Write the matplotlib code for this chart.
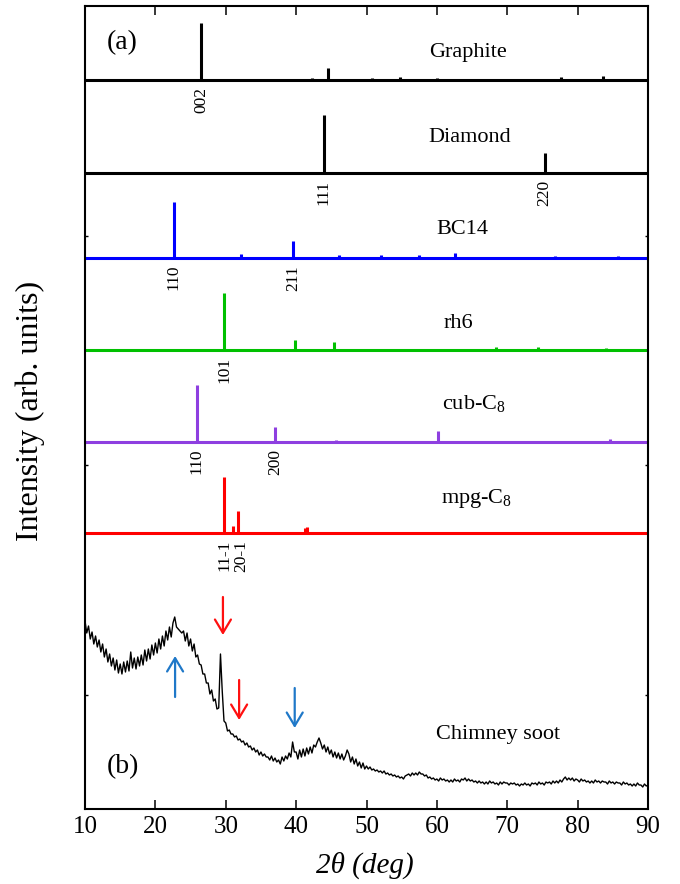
import numpy as np
import matplotlib
matplotlib.use("Agg")
import matplotlib.pyplot as plt

plt.rcParams['font.family'] = ['Liberation Serif', 'DejaVu Serif']
plt.rcParams['mathtext.fontset'] = 'custom'
plt.rcParams['mathtext.rm'] = 'Liberation Serif'
plt.rcParams['mathtext.it'] = 'Liberation Serif:italic'

# simulated patterns: peak positions (2theta, deg) and heights (arb. units)
graphite_pos = [26.5, 42.3, 44.6, 50.8, 54.7, 60.0, 77.6, 83.6, 87.4]
graphite_int = [57, 2, 12, 2, 3, 2, 3, 4, 1]
diamond_pos = [43.9, 75.3]
diamond_int = [58, 20]
bc14_pos = [22.6, 32.2, 39.6, 46.1, 52.1, 57.5, 62.6, 67.6, 72.3, 76.8, 81.4, 85.7]
bc14_int = [56, 4, 17, 3, 3, 3, 5, 1, 1.5, 2, 1.5, 2]
rh6_pos = [25.6, 29.8, 39.8, 45.4, 48.1, 62.1, 68.4, 74.4, 84.0]
rh6_int = [1, 57, 10, 8, 1, 0.5, 3, 3, 2]
cub_pos = [25.9, 37.0, 45.7, 53.3, 60.2, 73.0, 78.9, 84.6]
cub_int = [57, 15, 2, 1, 11, 1, 1, 3]
mpg_pos = [20.3, 25.1, 29.8, 31.1, 31.8, 41.2, 41.6, 44.1, 47.4, 50.9,
           56.4, 58.0, 60.1, 61.8, 63.9, 68.5, 74.7, 79.9, 86.0]
mpg_int = [1, 1, 56, 7, 22, 5, 6, 1, 1, 1, 1, 1.5, 1.5, 1, 1.5, 0.5, 0.5, 0.5, 0.5]

names = ['Graphite', 'Diamond', 'BC14', 'rh6', 'cub-C$_8$', 'mpg-C$_8$']
hkl_pos = [[26.5], [43.9, 75.3], [22.6, 39.6], [29.8], [25.9, 37.0], [29.8, 32.2]]
hkl_txt = [['002'], ['111', '220'], ['110', '211'], ['101'], ['110', '200'], ['11-1', '20-1']]

# measured chimney soot, step 0.25 deg from 10 to 90
soot_start, soot_step = 10.0, 0.25
soot_int = [
    188, 176, 183, 170, 177, 165, 173, 162, 169, 157, 165, 152, 160, 147, 155, 143,
    151, 139, 149, 136, 145, 135, 147, 137, 148, 138, 157, 141, 151, 140, 152, 143,
    154, 144, 159, 148, 160, 150, 164, 154, 166, 156, 170, 160, 173, 163, 178, 169,
    182, 172, 186, 192, 182, 180, 178, 176, 178, 168, 176, 163, 170, 158, 165, 152,
    154, 145, 144, 135, 135, 126, 126, 115, 119, 108, 110, 100, 101, 155, 118, 88,
    86, 78, 79, 75, 75, 72, 73, 69, 70, 67, 68, 64, 66, 62, 63, 59,
    61, 57, 59, 54, 57, 53, 55, 52, 52, 49, 53, 48, 51, 47, 49, 45,
    52, 48, 53, 50, 56, 52, 67, 57, 57, 50, 59, 52, 60, 53, 61, 55,
    62, 56, 64, 62, 67, 71, 66, 60, 64, 57, 62, 55, 59, 52, 57, 51,
    56, 50, 55, 49, 53, 59, 55, 47, 52, 45, 50, 43, 47, 41, 46, 40,
    43, 40, 42, 39, 40, 38, 39, 37, 38, 36, 38, 35, 36, 34, 35, 33,
    34, 32, 33, 31, 32, 30, 33, 34, 35, 33, 36, 34, 36, 34, 37, 35,
    35, 33, 34, 31, 32, 30, 31, 29, 30, 28, 31, 29, 30, 28, 29, 27,
    29, 27, 30, 28, 29, 27, 30, 29, 31, 28, 30, 28, 29, 27, 28, 26,
    28, 26, 27, 25, 27, 25, 28, 26, 27, 25, 26, 24, 27, 25, 27, 26,
    26, 24, 26, 25, 26, 24, 25, 23, 25, 24, 26, 24, 25, 23, 26, 25,
    26, 24, 27, 25, 26, 24, 27, 26, 27, 25, 28, 26, 28, 26, 29, 27,
    30, 32, 29, 31, 29, 31, 28, 30, 29, 27, 30, 28, 29, 27, 28, 26,
    28, 26, 29, 27, 28, 26, 28, 27, 27, 25, 28, 26, 27, 25, 27, 26,
    26, 24, 27, 25, 26, 24, 25, 23, 25, 23, 26, 24, 24, 22, 25, 23,
    24,
]

patterns = [(graphite_pos, graphite_int), (diamond_pos, diamond_int), (bc14_pos, bc14_int),
            (rh6_pos, rh6_int), (cub_pos, cub_int), (mpg_pos, mpg_int)]
colors = ['black', 'black', '#0000ff', '#00c000', '#8e3fe0', '#ff0000']
offsets = [729, 636, 551, 459, 367, 276]
name_xy = [(64.4, 756), (64.7, 671), (63.6, 579), (63.0, 485), (65.2, 405), (65.7, 310)]

fig = plt.figure(figsize=(6.8, 8.84), dpi=100)
ax = fig.add_axes([85 / 680, 1 - 809 / 884, 563 / 680, 803 / 884])

for (pos, inten), c, off, name, nxy, hp, ht in zip(patterns, colors, offsets, names,
                                                   name_xy, hkl_pos, hkl_txt):
    ax.hlines(off, 10, 90, color=c, lw=2.2)
    ax.vlines(pos, off, off + np.array(inten), color=c, lw=2.2)
    ax.text(nxy[0], nxy[1], name, fontsize=16, ha='center', va='center')
    for x, t in zip(hp, ht):
        ax.text(x, off - 7, t, fontsize=12.5, rotation=90, ha='center', va='top')

soot_x = soot_start + soot_step * np.arange(len(soot_int))
ax.plot(soot_x, soot_int, color='black', lw=1.0)
ax.text(68.7, 75, 'Chimney soot', fontsize=16, ha='center', va='center')

# arrows on the soot pattern
arrow_x = [29.6, 31.9, 22.8, 39.8]
arrow_tail = [212, 129, 112, 121]
arrow_head = [174, 89, 153, 81]
arrow_col = ['#ff1010', '#ff1010', '#1f78c8', '#1f78c8']
for x, y0, y1, c in zip(arrow_x, arrow_tail, arrow_head, arrow_col):
    ax.annotate('', xy=(x, y1), xytext=(x, y0),
                arrowprops=dict(arrowstyle='->,head_length=0.6,head_width=0.36',
                                color=c, lw=1.6, mutation_scale=16,
                                shrinkA=0, shrinkB=0))

ax.text(15.3, 766, '(a)', fontsize=20, ha='center', va='center')
ax.text(15.4, 42, '(b)', fontsize=20, ha='center', va='center')

ax.set_xlim(10, 90)
ax.set_ylim(0, 803)
ax.set_xticks(range(10, 91, 10))
ax.set_yticks([114, 344, 573])
ax.set_yticklabels([])
ax.tick_params(axis='x', direction='in', length=6.5, width=1.1, top=True,
               labelsize=18, pad=5)
ax.tick_params(axis='y', direction='in', length=2.5, width=1.0, right=True)
for s in ax.spines.values():
    s.set_linewidth(1.5)

fig.text(30 / 680, 1 - 411 / 884, 'Intensity (arb. units)', fontsize=23,
         rotation=90, ha='center', va='center')
fig.text(365 / 680, 1 - 865 / 884, '2θ (deg)', fontsize=21, style='italic',
         ha='center', va='center')

fig.savefig('out.png', dpi=100)
